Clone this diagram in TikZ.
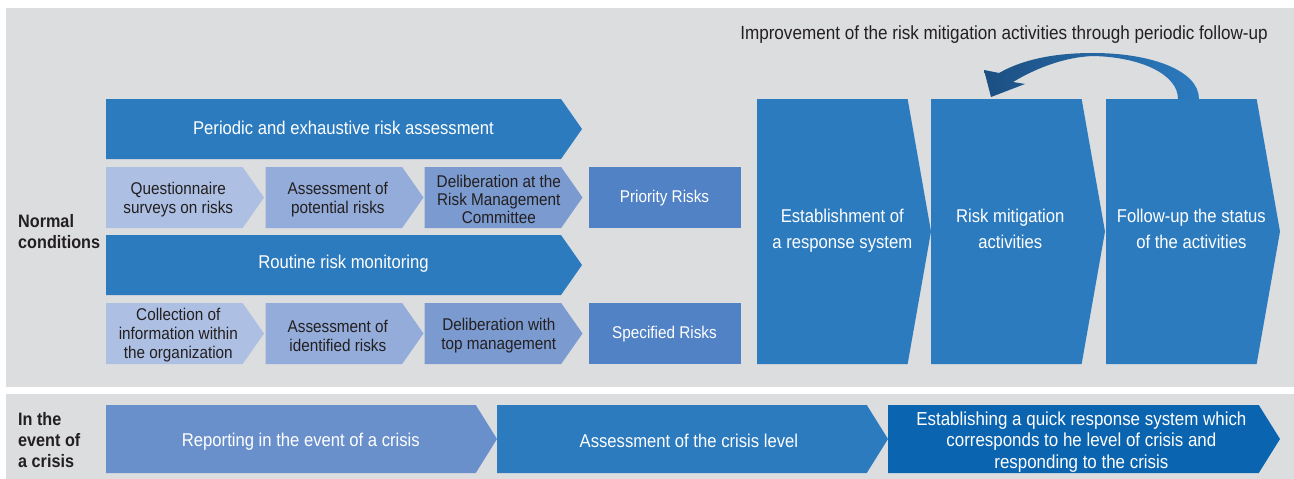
\documentclass[tikz,border=0pt]{standalone}
\usepackage{fontspec}
\setmainfont{Liberation Sans}[FakeStretch=0.9]
\usetikzlibrary{shapes.symbols,positioning}
\definecolor{panelgray}{RGB}{220,221,223}
\definecolor{riskblue}{RGB}{44,123,191}
\definecolor{stepone}{RGB}{173,192,227}
\definecolor{steptwo}{RGB}{147,172,217}
\definecolor{stepthree}{RGB}{123,155,208}
\definecolor{resultblue}{RGB}{81,130,197}
\definecolor{crisisone}{RGB}{106,144,204}
\definecolor{crisisthree}{RGB}{10,100,176}
\definecolor{loopdark}{RGB}{28,79,130}
\definecolor{textdark}{RGB}{35,31,32}
\tikzset{
    % basic chevron (flat left side, pointed right side)
    chevron/.style={
        signal, signal to=east, signal from=nowhere,
        fill=riskblue, draw=none, inner sep=0pt, outer sep=0pt,
        anchor=west
    },
    % wide process chevron
    bigchevron/.style={chevron, minimum width=476pt, minimum height=60pt,
        signal pointer angle=110},
    % small step chevron
    stepchevron/.style={chevron, minimum width=158pt, minimum height=61pt,
        signal pointer angle=110},
    % tall response chevron
    tallchevron/.style={chevron, minimum width=174pt, minimum height=265pt,
        signal pointer angle=160},
    % crisis chevron
    crisischevron/.style={chevron, minimum width=391pt, minimum height=68pt,
        signal pointer angle=116},
    % chevron texts (centred on the whole shape, tip included)
    chevtext/.style={align=center, text=white, inner sep=0pt},
    bigtext/.style={chevtext, xshift=10pt, yshift=1pt, font=\fontsize{18.5}{20}\selectfont},
    steptext/.style={chevtext, text=textdark, xshift=4pt, yshift=-2pt, font=\fontsize{17}{19}\selectfont},
    talltext/.style={chevtext, xshift=10pt, yshift=1pt, font=\fontsize{18.5}{26}\selectfont},
    crisistext/.style={chevtext, xshift=10pt, yshift=-3pt, font=\fontsize{18.5}{21.5}\selectfont},
    % result box
    riskbox/.style={rectangle, fill=resultblue, text=white, inner sep=0pt,
        outer sep=0pt, minimum width=152pt, minimum height=61pt,
        text height=12pt, text depth=2pt,
        font=\fontsize{17}{19}\selectfont},
    % labels
    rowlabel/.style={anchor=west, align=left, text=textdark, inner sep=0pt,
        font=\bfseries\fontsize{18}{21}\selectfont},
    notelabel/.style={text=textdark, inner sep=0pt,
        font=\fontsize{19}{21}\selectfont},
}
\begin{document}
\begin{tikzpicture}[x=1pt,y=-1pt]
  \useasboundingbox (0,0) rectangle (1294,479);
  % background panels
  \fill[panelgray] (6,8) rectangle (1294,387);
  \fill[panelgray] (6,394) rectangle (1294,479);

  % row labels
  \node[rowlabel] (normal) at (18,232) {Normal\\conditions};
  \node[rowlabel] (crisis) at (18,440) {In the\\event of\\a crisis};

  % periodic assessment
  \node[bigchevron,label={[bigtext]center:Periodic and exhaustive risk assessment}] (periodic) at (106,129) {};
  \node[stepchevron,fill=stepone,
        label={[steptext]center:Questionnaire\\surveys on risks}] (survey) at (106,197.5) {};
  \node[stepchevron,fill=steptwo,right=1.5pt of survey.east,
        label={[steptext]center:Assessment of\\potential risks}] (potential) {};
  \node[stepchevron,fill=stepthree,right=1pt of potential.east,
        label={[steptext,xshift=2pt,font=\fontsize{17}{18}\selectfont]center:Deliberation at the\\Risk Management\\Committee}] (committee) {};
  \node[riskbox,right=6pt of committee.east] (priority) {Priority Risks};

  % routine monitoring
  \node[bigchevron,label={[bigtext]center:Routine risk monitoring}] (routine) at (106,265) {};
  \node[stepchevron,fill=stepone,
        label={[steptext]center:Collection of\\information within\\the organization}] (collect) at (106,333.5) {};
  \node[stepchevron,fill=steptwo,right=1.5pt of collect.east,
        label={[steptext]center:Assessment of\\identified risks}] (identified) {};
  \node[stepchevron,fill=stepthree,right=1pt of identified.east,
        label={[steptext,xshift=2pt]center:Deliberation with\\top management}] (topmgmt) {};
  \node[riskbox,right=6pt of topmgmt.east] (specified) {Specified Risks};

  % response system
  \node[tallchevron,label={[talltext]center:Establishment of\\a response system}] (setup) at (757,231.5) {};
  \node[tallchevron,right=0pt of setup.east,
        label={[talltext,xshift=-6pt,yshift=2pt]center:Risk mitigation\\activities}] (mitigation) {};
  \node[tallchevron,right=1pt of mitigation.east,
        label={[talltext,yshift=2pt]center:Follow-up the status\\of the activities}] (followup) {};

  % periodic follow-up loop
  \node[notelabel] (loopnote) at (1004,35) {Improvement of the risk mitigation activities through periodic follow-up};
  \coordinate (loopfrom) at (1188,99);
  \coordinate (loopto) at (991,97);
  \shade[left color=loopdark, right color=riskblue]
    (1199,99) .. controls (1199,70) and (1150,53) .. (1093,53)
    .. controls (1050,53) and (1020,61) .. (999,73)
    -- (984,70) -- (loopto) -- (1025,84) -- (1013,82)
    .. controls (1038,67) and (1066,57) .. (1093,56)
    .. controls (1140,57) and (1178,74) .. (1178,99) -- cycle;

  % crisis row
  \node[crisischevron,fill=crisisone,
        label={[crisistext]center:Reporting in the event of a crisis}] (report) at (106,439) {};
  \node[crisischevron,right=0pt of report.east,
        label={[crisistext,xshift=-3pt,yshift=1pt]center:Assessment of the crisis level}] (level) {};
  \node[crisischevron,fill=crisisthree,right=0pt of level.east,minimum width=392pt,
        label={[crisistext,xshift=-2pt,font=\fontsize{18.8}{21.5}\selectfont]center:Establishing a quick response system which\\corresponds to he level of crisis and\\responding to the crisis}] (respond) {};
\end{tikzpicture}
\end{document}
